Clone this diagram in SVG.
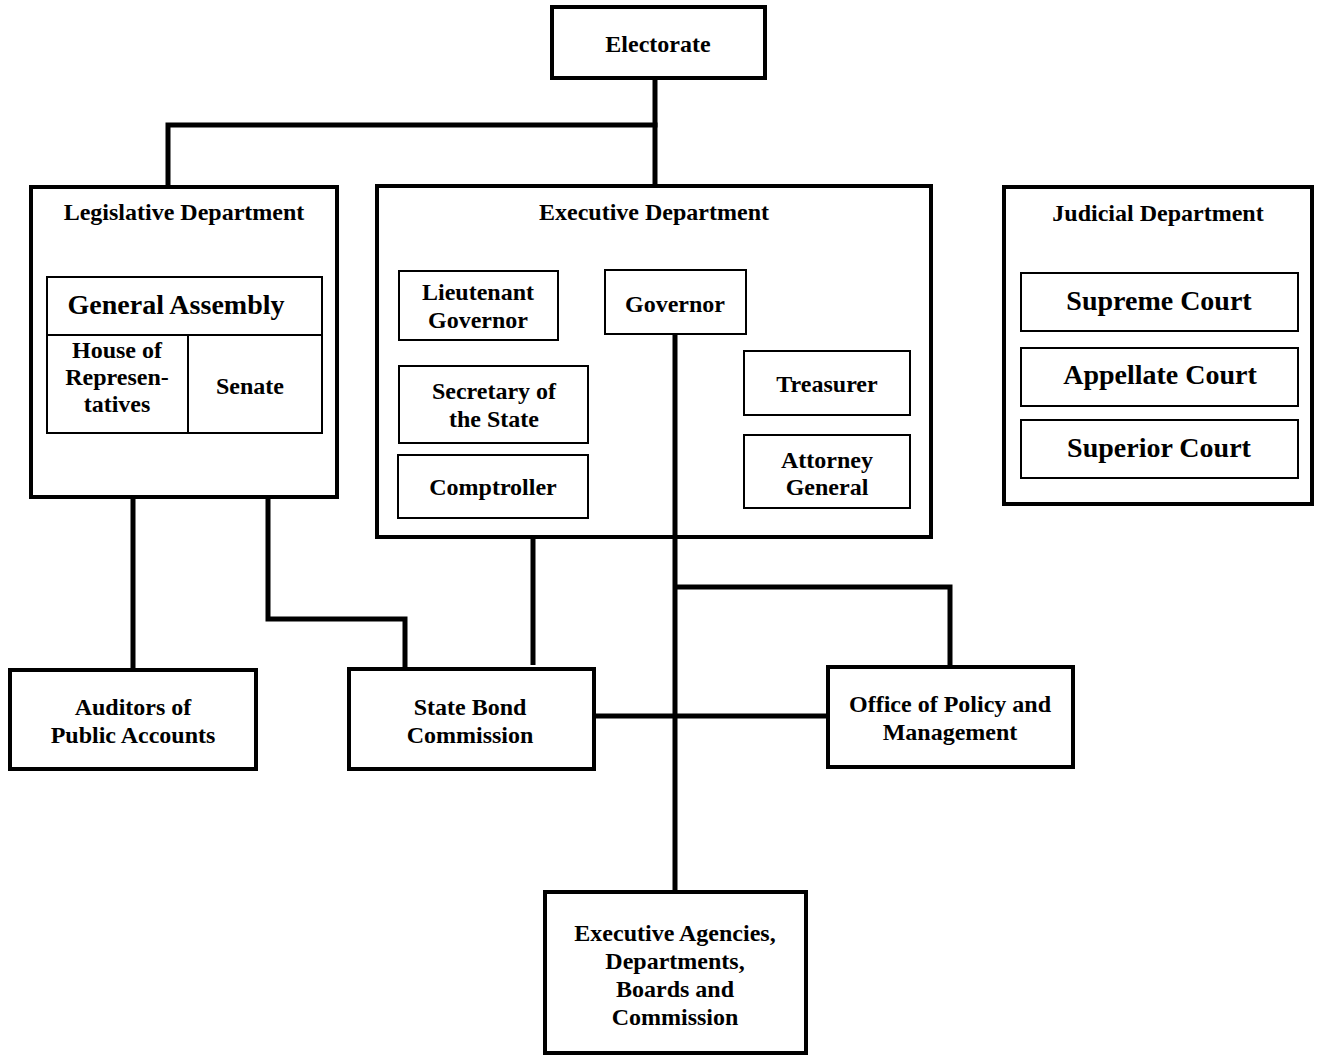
<svg xmlns="http://www.w3.org/2000/svg" width="1319" height="1055" viewBox="0 0 1319 1055">
<style>
.bg{fill:#ffffff}
.outer{fill:#ffffff;stroke:#000;stroke-width:4}
.inner{fill:#ffffff;stroke:#000;stroke-width:2}
.conn{fill:none;stroke:#000;stroke-width:5;stroke-linejoin:miter;stroke-linecap:butt}
text{font-family:"Liberation Serif","Times New Roman",serif;font-weight:bold;fill:#000;text-anchor:middle}
.t{font-size:24px}
.big{font-size:28px}
</style>
<rect class="bg" x="0" y="0" width="1319" height="1055"/>
<g id="electorate">
<rect class="outer" x="552" y="7" width="213" height="71"/>
<text class="t" x="658" y="52">Electorate</text>
</g>
<g id="legislative">
<rect class="outer" x="31" y="187" width="306" height="310"/>
<text class="t" x="184" y="220">Legislative Department</text>
</g>
<g id="general-assembly">
<rect class="inner" x="47" y="277" width="275" height="58"/>
<text class="big" x="176" y="314">General Assembly</text>
</g>
<g id="house">
<rect class="inner" x="47" y="335" width="141" height="98"/>
<text class="t" x="117" y="358">House of</text>
<text class="t" x="117" y="385">Represen-</text>
<text class="t" x="117" y="412">tatives</text>
</g>
<g id="senate">
<rect class="inner" x="188" y="335" width="134" height="98"/>
<text class="t" x="250" y="394">Senate</text>
</g>
<g id="executive">
<rect class="outer" x="377" y="186" width="554" height="351"/>
<text class="t" x="654" y="220">Executive Department</text>
</g>
<g id="lt-governor">
<rect class="inner" x="399" y="271" width="159" height="69"/>
<text class="t" x="478" y="300">Lieutenant</text>
<text class="t" x="478" y="328">Governor</text>
</g>
<g id="governor">
<rect class="inner" x="605" y="270" width="141" height="64"/>
<text class="t" x="675" y="312">Governor</text>
</g>
<g id="secretary">
<rect class="inner" x="399" y="366" width="189" height="77"/>
<text class="t" x="494" y="399">Secretary of</text>
<text class="t" x="494" y="427">the State</text>
</g>
<g id="comptroller">
<rect class="inner" x="398" y="455" width="190" height="63"/>
<text class="t" x="493" y="495">Comptroller</text>
</g>
<g id="treasurer">
<rect class="inner" x="744" y="351" width="166" height="64"/>
<text class="t" x="827" y="392">Treasurer</text>
</g>
<g id="attorney-general">
<rect class="inner" x="744" y="435" width="166" height="73"/>
<text class="t" x="827" y="468">Attorney</text>
<text class="t" x="827" y="495">General</text>
</g>
<g id="judicial">
<rect class="outer" x="1004" y="187" width="308" height="317"/>
<text class="t" x="1158" y="221">Judicial Department</text>
</g>
<g id="supreme-court">
<rect class="inner" x="1021" y="273" width="277" height="58"/>
<text class="big" x="1159" y="310">Supreme Court</text>
</g>
<g id="appellate-court">
<rect class="inner" x="1021" y="348" width="277" height="58"/>
<text class="big" x="1160" y="384">Appellate Court</text>
</g>
<g id="superior-court">
<rect class="inner" x="1021" y="420" width="277" height="58"/>
<text class="big" x="1159" y="457">Superior Court</text>
</g>
<g id="auditors">
<rect class="outer" x="10" y="670" width="246" height="99"/>
<text class="t" x="133" y="715">Auditors of</text>
<text class="t" x="133" y="743">Public Accounts</text>
</g>
<g id="state-bond">
<rect class="outer" x="349" y="669" width="245" height="100"/>
<text class="t" x="470" y="715">State Bond</text>
<text class="t" x="470" y="743">Commission</text>
</g>
<g id="opm">
<rect class="outer" x="828" y="667" width="245" height="100"/>
<text class="t" x="950" y="712">Office of Policy and</text>
<text class="t" x="950" y="740">Management</text>
</g>
<g id="executive-agencies">
<rect class="outer" x="545" y="892" width="261" height="161"/>
<text class="t" x="675" y="941">Executive Agencies,</text>
<text class="t" x="675" y="969">Departments,</text>
<text class="t" x="675" y="997">Boards and</text>
<text class="t" x="675" y="1025">Commission</text>
</g>
<g id="connectors">
<path class="conn" d="M655,80 V185"/>
<path class="conn" d="M168,185 V125 H657.5"/>
<path class="conn" d="M133,499 V668"/>
<path class="conn" d="M268,499 V619 H405 V667"/>
<path class="conn" d="M533,539 V665"/>
<path class="conn" d="M675,335 V890"/>
<path class="conn" d="M675,587 H950 V665"/>
<path class="conn" d="M596,716 H826"/>
</g>
</svg>
